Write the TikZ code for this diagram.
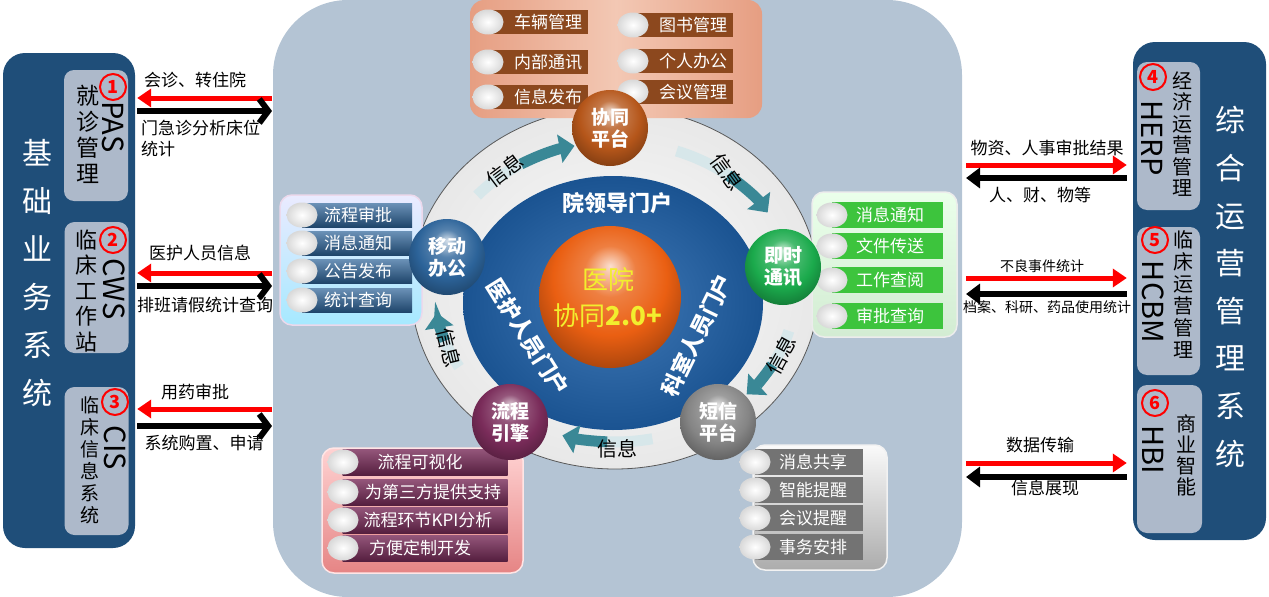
\documentclass[tikz,border=0pt]{standalone}
\usepackage{fontspec}
\setmainfont{Noto Sans CJK SC}
\usetikzlibrary{arrows.meta,shapes.geometric}

\definecolor{navy}{HTML}{1F4E79}
\definecolor{subgrey}{HTML}{ADB9CA}
\definecolor{bgsteel}{HTML}{B4C4D4}
\definecolor{diskblue}{HTML}{1F62AB}
\definecolor{ribbon}{HTML}{3A8896}
\definecolor{orangeball}{HTML}{EA5F12}
\definecolor{yellowtxt}{HTML}{F2EE2E}
\definecolor{xtbrown}{HTML}{B5561A}
\definecolor{brownbar}{HTML}{8C481E}
\definecolor{jsgreen}{HTML}{1BAA4C}
\definecolor{greenbar}{HTML}{3DC43D}
\definecolor{dxgrey}{HTML}{858585}
\definecolor{greybar}{HTML}{737373}
\definecolor{lcmaroon}{HTML}{7A2C5A}
\definecolor{ydblue}{HTML}{2C6399}
\definecolor{salmon}{HTML}{E69E82}
\definecolor{salmonlt}{HTML}{F3C8B4}
\colorlet{orbc}{orangeball}

% sphere shading, highlight on top
\pgfdeclareradialshading[orbc]{orb}{\pgfpoint{0bp}{11bp}}{color(0bp)=(orbc!20!white); color(9bp)=(orbc!80!white); color(20bp)=(orbc); color(33bp)=(orbc!65!black); color(50bp)=(orbc!65!black)}

\tikzset{
  panel/.style={fill=navy, rounded corners=22pt, minimum width=132pt, inner sep=0pt},
  subbox/.style={fill=subgrey, rounded corners=10pt, minimum width=64pt, inner sep=0pt},
  bigtxt/.style={text=white, align=center, inner sep=0pt, font=\fontsize{30}{48}\selectfont},
  vtxt/.style={align=center, inner sep=0pt},
  abbr/.style={rotate=-90, inner sep=0pt, font=\fontsize{29}{29}\selectfont},
  num/.style={circle, draw=red, line width=2pt, text=red, inner sep=0pt, minimum size=26pt, font=\fontsize{18}{18}\selectfont\bfseries},
  redarr/.style={draw=red, line width=5pt, -{Triangle[length=14pt,width=18pt]}},
  blkarr/.style={draw=black, line width=6pt, -{Straight Barb[length=9pt,width=24pt]}},
  blkarrR/.style={draw=black, line width=6pt, -{Triangle[length=14pt,width=20pt]}},
  lbl/.style={inner sep=0pt, font=\fontsize{17}{21}\selectfont},
  slbl/.style={inner sep=0pt, font=\fontsize{14}{14}\selectfont},
  orb/.style={/utils/exec={\colorlet{orbc}{#1}}, shade, shading=orb},
  sph/.style={circle, minimum size=76pt, inner sep=0pt, orb=#1, text=white, align=center, font=\fontsize{19}{22}\selectfont\bfseries},
  bead/.style={ellipse, minimum width=31pt, minimum height=25pt, inner sep=0pt, inner color=white, outer color=gray!30},
  bar/.style={inner sep=0pt, minimum height=24pt, #1},
  itxt/.style={text=white, inner sep=0pt, font=\fontsize{17}{17}\selectfont},
  info/.style={inner sep=0pt, font=\fontsize{20}{20}\selectfont},
  ptxt/.style={text=white, inner sep=0pt, font=\fontsize{22}{22}\selectfont\bfseries},
}

\begin{document}
\begin{tikzpicture}[x=1pt, y=-1pt]
\useasboundingbox (0,0) rectangle (1269,597);

% hub background
\fill[bgsteel, rounded corners=75pt] (273,0) rectangle (962,597);

% ring and blue disk
\coordinate (ctr) at (615,292);
\node[ellipse, minimum width=408pt, minimum height=362pt, draw=gray!70!black, line width=0.8pt, inner color=white!97!gray, outer color=gray!18] (ring) at (615,288) {};
\node[ellipse, minimum width=300pt, minimum height=254pt, inner color=diskblue!85!white, outer color=diskblue!85!black] (disk) at (613,303) {};

% info ribbons
\foreach \a/\b in {-140/-103, -70/-32, 15/43, 78/107, 150/172} {
	\pgfmathsetmacro{\m}{(\a+\b)/2}
	\draw[ribbon!20!white, line width=11pt] (ctr) ++(\a:180 and 150) arc[start angle=\a, end angle=\m, x radius=180, y radius=150];
	\draw[ribbon, line width=11pt, -{Triangle[length=15pt,width=28pt]}] (ctr) ++(\m:180 and 150) arc[start angle=\m, end angle=\b, x radius=180, y radius=150];
}
\node[info, rotate=37] (inf1) at (505,170) {信息};
\node[info, rotate=-54] (inf2) at (727,172) {信息};
\node[info, rotate=61] (inf3) at (781,355) {信息};
\node[info] (inf4) at (617,449) {信息};
\node[info, rotate=-76] (inf5) at (449,348) {信息};

% portals
\node[ptxt] (ld) at (617,203) {院领导门户};
\node[ptxt, rotate=-58] (yh) at (528,337) {医护人员门户};
\node[ptxt, rotate=64] (ks) at (697,335) {科室人员门户};

% core
\node[circle, minimum size=142pt, orb=orangeball] (core) at (610,297) {};
\node[align=center, text=yellowtxt, font=\fontsize{26}{36}\selectfont] (coretxt) at (608,298) {医院\\协同\textbf{2.0+}};

% top group
\shade[rounded corners=14pt, left color=salmon, right color=salmon, middle color=salmonlt] (470,0) rectangle (762,118);
\foreach \i/\x/\y/\t in {1/488/22/车辆管理, 2/488/62/内部通讯, 3/488/97/信息发布, 4/633/25/图书管理, 5/633/61/个人办公, 6/633/92/会议管理} {
	\node[bar={fill=brownbar}, minimum width=100pt] (xtb\i) at (\x+50,\y) {};
	\node[bead] (xtk\i) at (\x,\y) {};
	\node[itxt] (xtt\i) at (\x+60,\y) {\t};
}

% left group
\shadedraw[rounded corners=12pt, top color=blue!8!white, bottom color=blue!25!cyan!35!white, draw=violet!15!white, line width=1.5pt] (280,195) rectangle (422,325);
\foreach \i/\y/\t in {1/215/流程审批, 2/243/消息通知, 3/271/公告发布, 4/300/统计查询} {
	\node[bar={top color=ydblue!70!white, bottom color=ydblue!70!black}, minimum width=110pt] (ydb\i) at (357,\y) {};
	\node[bead] (ydk\i) at (302,\y) {};
	\node[itxt] (ydt\i) at (358,\y) {\t};
}

% right group
\shadedraw[rounded corners=12pt, top color=green!8!white, bottom color=green!40!gray!25!white, draw=white!85!gray, line width=1.5pt] (812,192) rectangle (957,337);
\foreach \i/\y/\t in {1/215/消息通知, 2/246/文件传送, 3/280/工作查阅, 4/316/审批查询} {
	\node[bar={fill=greenbar, minimum height=26pt}, minimum width=111pt] (jsb\i) at (887,\y) {};
	\node[bead] (jsk\i) at (832,\y) {};
	\node[itxt] (jst\i) at (890,\y) {\t};
}

% bottom left group
\shadedraw[rounded corners=12pt, top color=pink!70!white, bottom color=red!30!pink!80!gray, draw=pink!40!white, line width=1.5pt] (322,448) rectangle (523,573);
\foreach \i/\y/\xt/\t in {1/462/420/流程可视化, 2/492/433/为第三方提供支持, 3/520/428/流程环节KPI分析, 4/548/420/方便定制开发} {
	\node[bar={top color=lcmaroon!80!white, bottom color=lcmaroon!70!black, minimum height=26pt}, minimum width=165pt] (lcb\i) at (425,\y) {};
	\node[bead] (lck\i) at (343,\y) {};
	\node[itxt] (lct\i) at (\xt,\y) {\t};
}

% bottom right group
\shadedraw[rounded corners=12pt, top color=white!96!gray, bottom color=gray!65, draw=white!90!gray, line width=1.5pt] (753,445) rectangle (887,570);
\foreach \i/\y/\t in {1/462/消息共享, 2/490/智能提醒, 3/518/会议提醒, 4/547/事务安排} {
	\node[bar={fill=greybar, minimum height=26pt}, minimum width=108pt] (dxb\i) at (809,\y) {};
	\node[bead] (dxk\i) at (755,\y) {};
	\node[itxt] (dxt\i) at (813,\y) {\t};
}

% spheres on the ring
\node[sph=xtbrown] (xt) at (610,128) {协同\\平台};
\node[sph=jsgreen] (js) at (783,267) {即时\\通讯};
\node[sph=dxgrey] (dx) at (718,422) {短信\\平台};
\node[sph=lcmaroon] (lc) at (510,422) {流程\\引擎};
\node[sph=ydblue] (yd) at (447,257) {移动\\办公};

% left panel
\node[panel, minimum height=495pt] (panelL) at (69,300.5) {};
\node[bigtxt] (jc) at (37,273) {基\\础\\业\\务\\系\\统};
\node[subbox, minimum height=131pt] (pas) at (96,135.5) {};
\node[subbox, minimum height=131pt] (cws) at (96.5,287.5) {};
\node[subbox, minimum height=148pt] (cis) at (96.5,461) {};
\node[vtxt, font=\fontsize{23}{26}\selectfont] (pasv) at (88,134) {就\\诊\\管\\理};
\node[vtxt, font=\fontsize{22}{25.5}\selectfont] (cwsv) at (86,291) {临\\床\\工\\作\\站};
\node[vtxt, font=\fontsize{19}{22}\selectfont] (cisv) at (90,460) {临\\床\\信\\息\\系\\统};
\node[abbr] (pasa) at (113,127) {PAS};
\node[abbr] (cwsa) at (114,289) {CWS};
\node[abbr] (cisa) at (115,448) {CIS};
\node[num] (n1) at (113,87) {1};
\node[num] (n2) at (113,240) {2};
\node[num] (n3) at (115,402) {3};

% right panel
\node[panel, minimum width=133pt, minimum height=498pt] (panelR) at (1199.5,291) {};
\node[bigtxt, font=\fontsize{30}{47.6}\selectfont] (zh) at (1230,287) {综\\合\\运\\营\\管\\理\\系\\统};
\node[subbox, minimum width=63pt, minimum height=148pt] (herp) at (1168.5,136) {};
\node[subbox, minimum width=63pt, minimum height=148pt] (hcbm) at (1168.5,301) {};
\node[subbox, minimum width=65pt, minimum height=148pt] (hbi) at (1169.5,459) {};
\node[vtxt, font=\fontsize{20}{21.5}\selectfont] (herpv) at (1182,134) {经\\济\\运\\营\\管\\理};
\node[vtxt, font=\fontsize{20}{22}\selectfont] (hcbmv) at (1183,295) {临\\床\\运\\营\\管\\理};
\node[vtxt, font=\fontsize{20}{21}\selectfont] (hbiv) at (1186,455) {商\\业\\智\\能};
\node[abbr] (herpa) at (1152,138) {HERP};
\node[abbr] (hcbma) at (1153,302) {HCBM};
\node[abbr] (hbia) at (1153,450) {HBI};
\node[num] (n4) at (1153,77) {4};
\node[num] (n5) at (1155,240) {5};
\node[num] (n6) at (1155,403) {6};

% arrows to the left systems
\foreach \i/\ya/\yb in {1/98/111, 2/273/286, 3/409/426} {
	\coordinate (la\i) at (272,\ya);
	\coordinate (lb\i) at (272,\yb);
	\draw[redarr, shorten >=2pt] (la\i) -- (panelL.east |- la\i);
	\draw[blkarr, shorten <=2pt] (panelL.east |- lb\i) -- (lb\i);
}
\node[lbl] (l1top) at (195,80) {会诊、转住院};
\node[lbl, align=left, anchor=north west] (l1bot) at (141,120) {门急诊分析床位\\统计};
\node[lbl] (l2top) at (200,253) {医护人员信息};
\node[lbl] (l2bot) at (205,305) {排班请假统计查询};
\node[lbl] (l3top) at (195,392) {用药审批};
\node[lbl] (l3bot) at (204,443) {系统购置、申请};

% arrows to the right systems
\foreach \i/\ya/\yb in {4/165/178, 5/278/294, 6/463/477} {
	\coordinate (ra\i) at (966,\ya);
	\coordinate (rb\i) at (966,\yb);
	\draw[redarr, shorten >=6pt] (ra\i) -- (panelR.west |- ra\i);
	\draw[blkarrR, shorten <=6pt] (panelR.west |- rb\i) -- (rb\i);
}
\node[lbl] (r4top) at (1047,148) {物资、人事审批结果};
\node[lbl] (r4bot) at (1040,195) {人、财、物等};
\node[slbl] (r5top) at (1042,266) {不良事件统计};
\node[slbl] (r5bot) at (1047,307) {档案、科研、药品使用统计};
\node[lbl] (r6top) at (1040,445) {数据传输};
\node[lbl] (r6bot) at (1045,488) {信息展现};

\end{tikzpicture}
\end{document}
